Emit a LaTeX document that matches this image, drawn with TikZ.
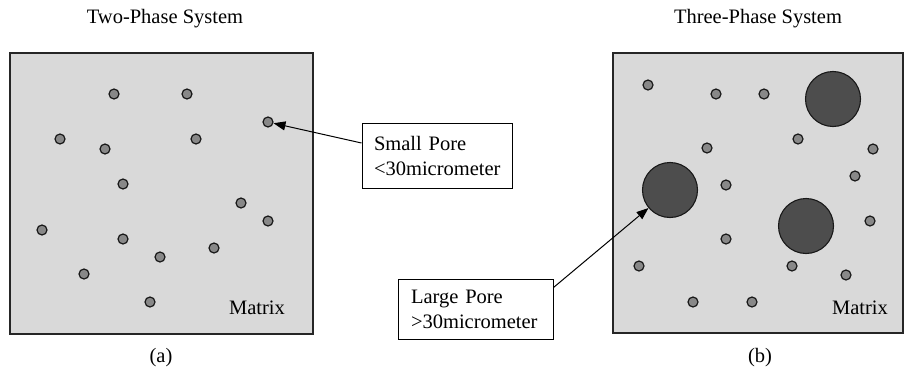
\documentclass[tikz,border=0pt]{standalone}
\usepackage{fontspec}
\setmainfont{Liberation Serif}
\usetikzlibrary{arrows.meta}
\definecolor{matrixgray}{HTML}{D9D9D9}
\definecolor{poregray}{HTML}{888888}
\definecolor{largegray}{HTML}{4D4D4D}
\begin{document}
\begin{tikzpicture}[x=1pt,y=-1pt,
  every node/.style={font=\fontsize{20.5}{25}\selectfont},
  panel/.style={draw=black!85, line width=1.3pt, fill=matrixgray},
  pore/.style={circle, draw=black!90, line width=1.2pt, fill=poregray, minimum size=10pt, inner sep=0pt},
  bigpore/.style={circle, draw=black!90, line width=1.1pt, fill=largegray, minimum size=55pt, inner sep=0pt},
  labelbox/.style={draw=black, line width=1pt, fill=white, align=left, inner ysep=0pt},
  pointer/.style={line width=1pt, -{Triangle[length=12pt,width=9pt]}}]
\useasboundingbox (0,0) rectangle (905,372);

% panel (a): two-phase system
\node (ta) at (165,19) {Two-Phase System};
\draw[panel] (10,53) rectangle (313,334);
\node (ma) at (257,308) {Matrix};
\node (ca) at (161,358) {(a)};
\foreach \n/\x/\y in {a1/114/94, a2/187/94, a3/268/122, a4/60/139, a5/105/149,
  a6/196/139, a7/123/184, a8/241/203, a9/268/221, a10/42/230, a11/123/239,
  a12/214/248, a13/160/257, a14/84/274, a15/150/302}
  \node[pore] (\n) at (\x,\y) {};

% panel (b): three-phase system
\node (tb) at (758,19) {Three-Phase System};
\draw[panel] (613,53) rectangle (903,333);
\node (mb) at (860,308) {Matrix};
\node (cb) at (760,358) {(b)};
\foreach \n/\x/\y in {b1/648/85, b2/716/94, b3/764/94, b4/798/139, b5/873/149,
  b6/707/148, b7/855/176, b8/726/185, b9/870/221, b10/726/239, b11/639/266,
  b12/792/266, b13/846/275, b14/693/302, b15/752/302}
  \node[pore] (\n) at (\x,\y) {};
\node[bigpore] (L1) at (833,99) {};
\node[bigpore] (L2) at (670,190) {};
\node[bigpore] (L3) at (806,226) {};

% callouts
\node[labelbox, text width=126pt, inner xsep=12pt, minimum height=65pt] (sbox) at (437,155.5)
  {Small Pore\\<30micrometer};
\node[labelbox, text width=129pt, inner xsep=13pt, minimum height=60pt] (lbox) at (475.5,309)
  {Large Pore\\>30micrometer};
\draw[pointer] ([yshift=12.5pt]sbox.west) -- (a3);
\draw[pointer] ([yshift=-9pt]lbox.north east) -- (L2);
\end{tikzpicture}
\end{document}
